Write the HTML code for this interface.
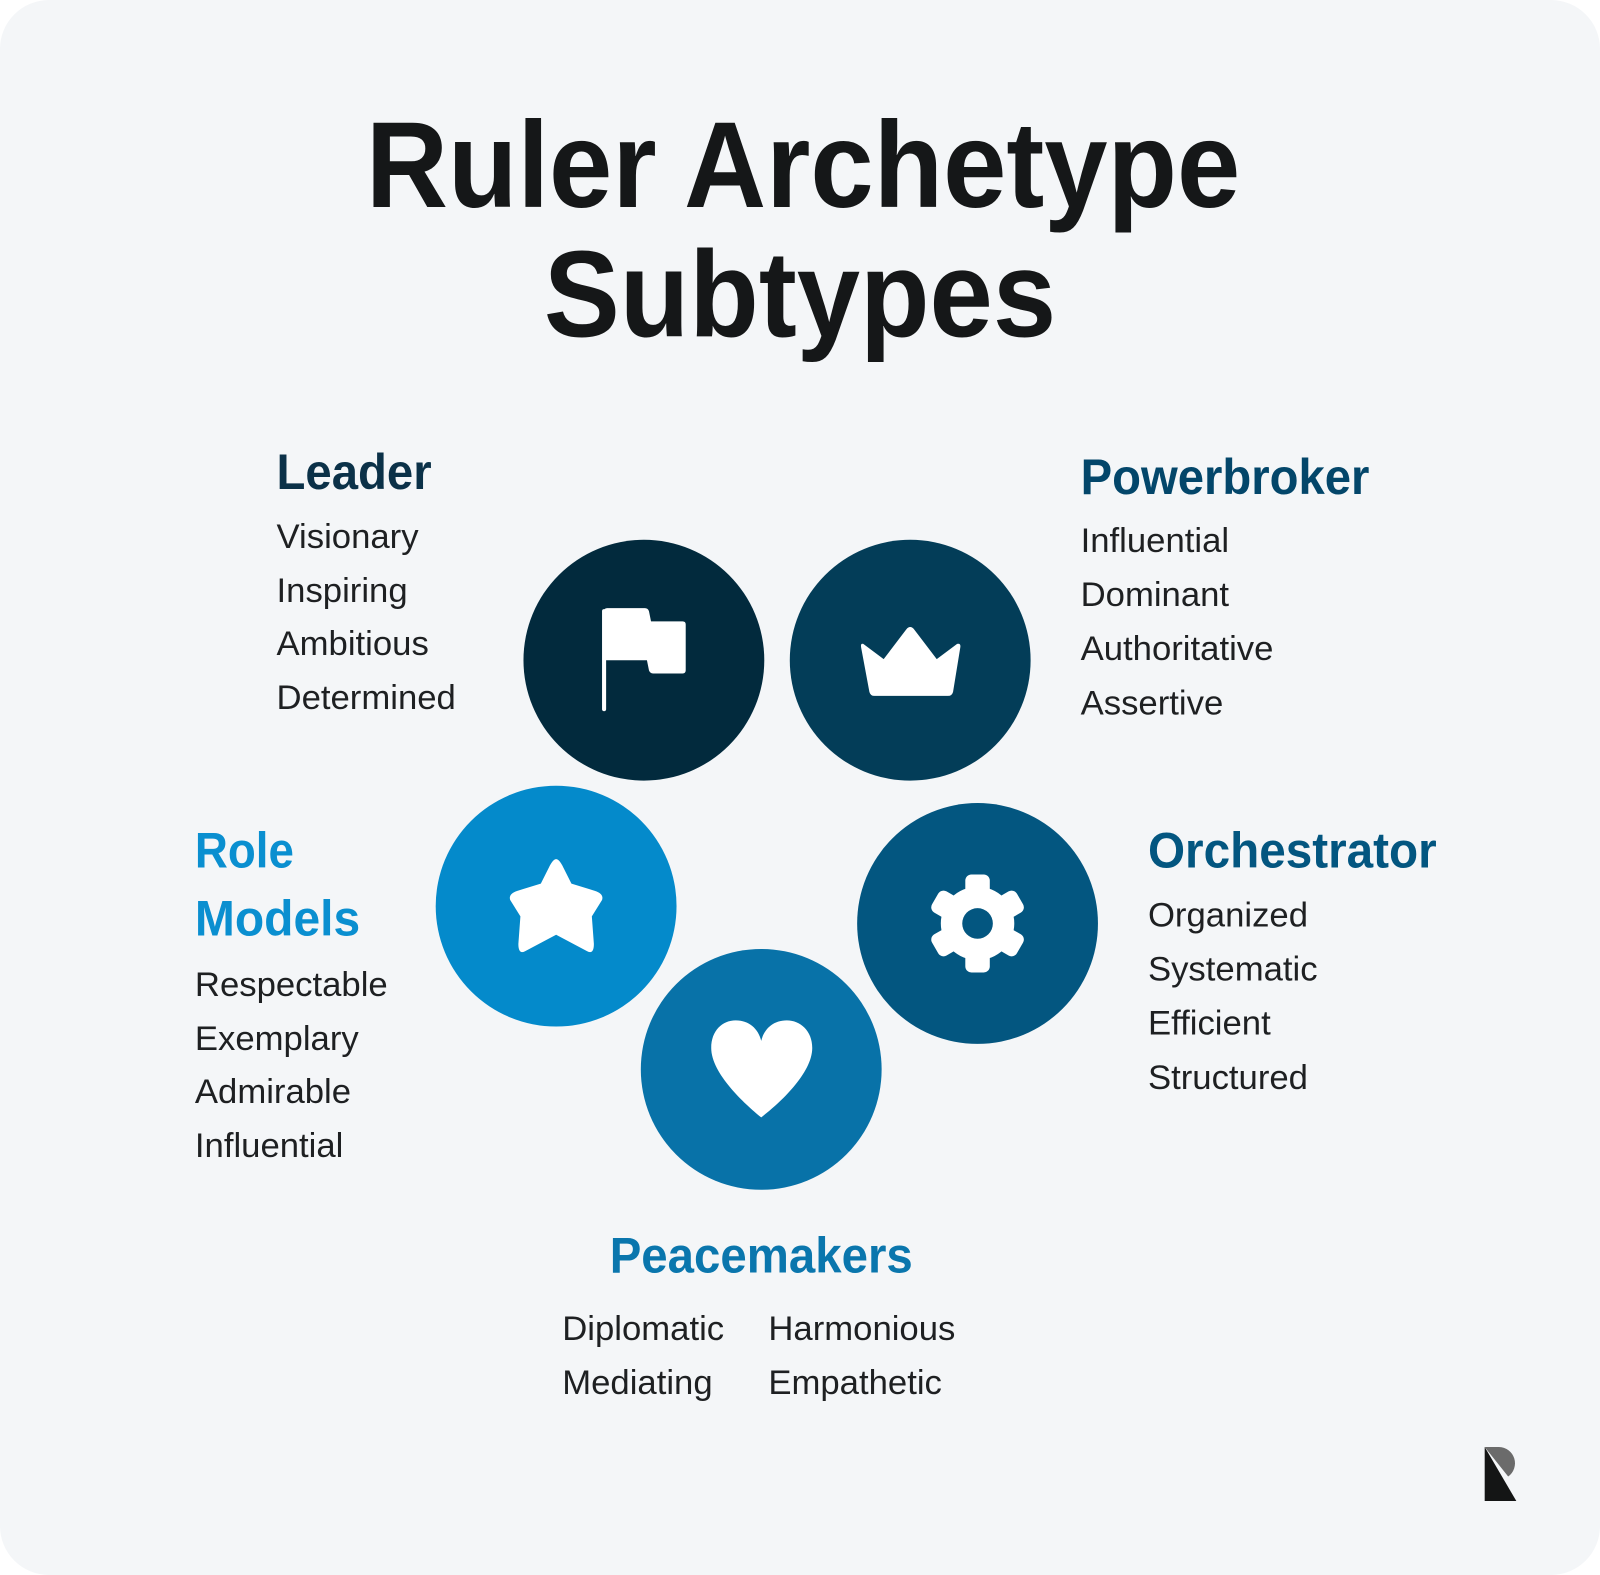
<!DOCTYPE html>
<html><head><meta charset="utf-8"><style>
html,body{margin:0;padding:0;background:#fff;}
svg{display:block;}
text{font-family:"Liberation Sans",Arial,sans-serif;}
.h{font-weight:bold;font-size:49px;}
.i{font-size:34px;fill:#1e2022;}
</style></head><body>
<svg width="1600" height="1575" viewBox="0 0 1568 1543.5" preserveAspectRatio="none" xmlns="http://www.w3.org/2000/svg">
<rect x="0" y="0" width="1568" height="1543.5" rx="48" fill="#f4f6f8"/>
<text x="787" y="203" text-anchor="middle" font-weight="bold" font-size="120" fill="#151718" textLength="857" lengthAdjust="spacingAndGlyphs">Ruler Archetype</text>
<text x="784" y="330" text-anchor="middle" font-weight="bold" font-size="120" fill="#151718" textLength="502" lengthAdjust="spacingAndGlyphs">Subtypes</text>

<text class="h" x="271" y="479" fill="#0b3148" textLength="152" lengthAdjust="spacingAndGlyphs">Leader</text>
<text class="i" x="271" y="537">Visionary</text>
<text class="i" x="271" y="590">Inspiring</text>
<text class="i" x="271" y="642">Ambitious</text>
<text class="i" x="271" y="695">Determined</text>

<text class="h" x="1059" y="484" fill="#03466a" textLength="283" lengthAdjust="spacingAndGlyphs">Powerbroker</text>
<text class="i" x="1059" y="541">Influential</text>
<text class="i" x="1059" y="594">Dominant</text>
<text class="i" x="1059" y="647">Authoritative</text>
<text class="i" x="1059" y="700">Assertive</text>

<text class="h" x="191" y="850" fill="#0a8fd0" textLength="97" lengthAdjust="spacingAndGlyphs">Role</text>
<text class="h" x="191" y="917" fill="#0a8fd0" textLength="162" lengthAdjust="spacingAndGlyphs">Models</text>
<text class="i" x="191" y="976">Respectable</text>
<text class="i" x="191" y="1029">Exemplary</text>
<text class="i" x="191" y="1081">Admirable</text>
<text class="i" x="191" y="1134">Influential</text>

<text class="h" x="1125" y="850" fill="#035680" textLength="283" lengthAdjust="spacingAndGlyphs">Orchestrator</text>
<text class="i" x="1125" y="908">Organized</text>
<text class="i" x="1125" y="961">Systematic</text>
<text class="i" x="1125" y="1014">Efficient</text>
<text class="i" x="1125" y="1067">Structured</text>

<text class="h" x="746" y="1247" text-anchor="middle" fill="#0a76ad" textLength="297" lengthAdjust="spacingAndGlyphs">Peacemakers</text>
<text class="i" x="551" y="1313">Diplomatic</text>
<text class="i" x="753" y="1313">Harmonious</text>
<text class="i" x="551" y="1366">Mediating</text>
<text class="i" x="753" y="1366">Empathetic</text>

<circle cx="631" cy="647" r="118" fill="#022a3d"/>
<circle cx="892" cy="647" r="118" fill="#033d58"/>
<circle cx="545" cy="888" r="118" fill="#048acb"/>
<circle cx="958" cy="905" r="118" fill="#035680"/>
<circle cx="746" cy="1048" r="118" fill="#0872a8"/>

<rect x="590" y="597" width="4" height="100" rx="2" fill="#fff"/>
<path d="M592 599 Q592 596 595 596 L632 596 Q635 596 636 599 L638 609 L669 609 Q672 609 672 612 L672 657 Q672 660 669 660 L640 660 Q637 660 636 657 L634 647 L592 647 Z" fill="#fff"/>
<path d="M846 631 Q843 630 844 635 L852 678 Q853 682 857 682 L929 682 Q933 682 934 678 L941 635 Q942 630 938 631 L918 646 L896 617 Q892 612 888 617 L866 646 Z" fill="#fff"/>
<path d="M545 842 Q548 842 552 850 L560 866 L583 873 Q592 876 590 882 L580 898 L582 925 Q582 936 575 932 L545 916 L515 932 Q508 936 508 925 L510 898 L500 882 Q498 876 507 873 L530 866 L538 850 Q542 842 545 842 Z" fill="#fff"/>
<g transform="translate(958,905)" fill="#fff">
<circle r="36"/>
<g id="t"><rect x="-12" y="-48" width="24" height="22" rx="6"/></g>
<use href="#t" transform="rotate(60)"/><use href="#t" transform="rotate(120)"/>
<use href="#t" transform="rotate(180)"/><use href="#t" transform="rotate(240)"/>
<use href="#t" transform="rotate(300)"/>
<circle r="15" fill="#035680"/>
</g>
<path d="M746 1095 C730 1082 697 1052 697 1027 C697 1010 708 1000 721 1000 C734 1000 743 1008 746 1020 C749 1008 758 1000 771 1000 C784 1000 796 1010 796 1027 C796 1052 763 1082 746 1095 Z" fill="#fff"/>

<path d="M1455 1418 L1469 1418 A16 16 0 0 1 1478 1447 Z" fill="#6b6b6b"/>
<path d="M1455 1418 L1486 1471 L1455 1471 Z" fill="#141515"/>
</svg>
</body></html>
